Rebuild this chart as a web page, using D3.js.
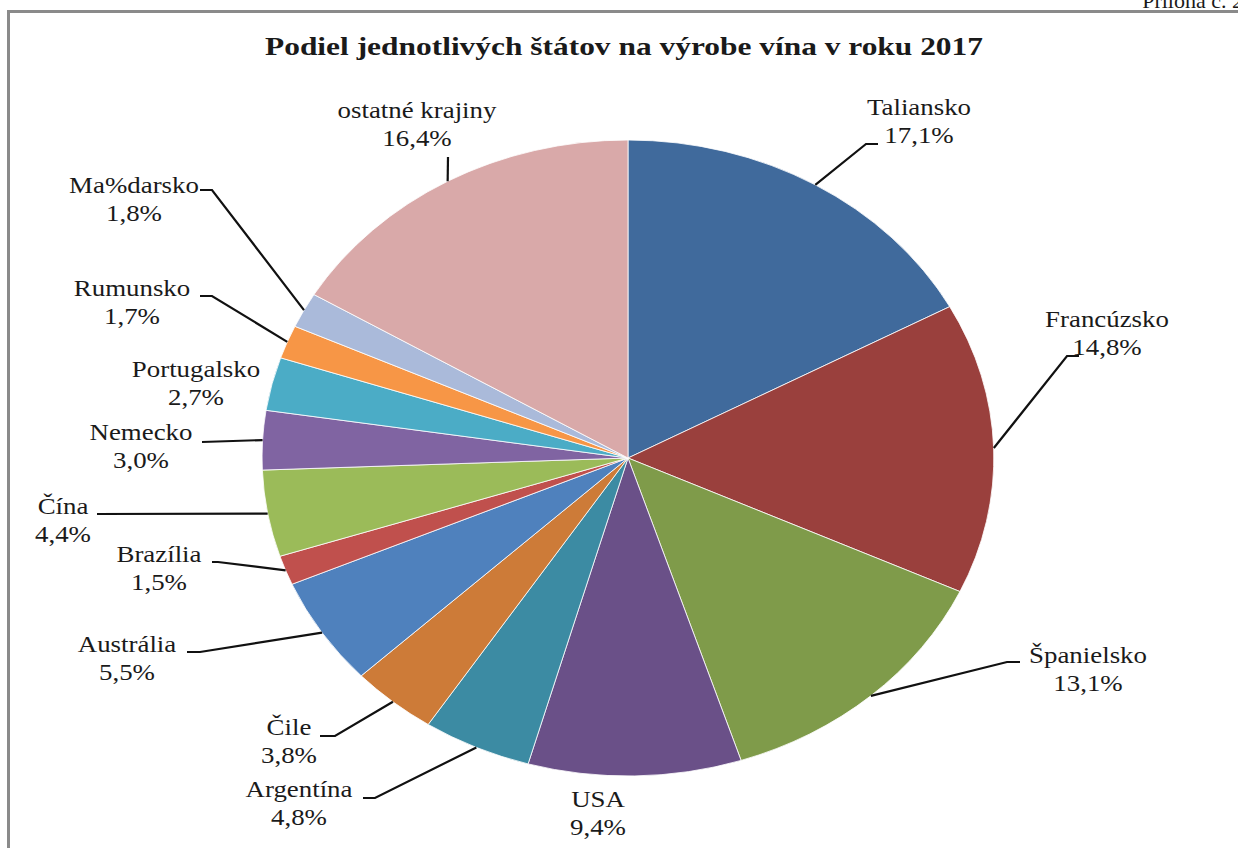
<!DOCTYPE html>
<html>
  <head>
    <meta charset="utf-8">
    <title>Podiel jednotlivých štátov na výrobe vína v roku 2017</title>
    <script src="https://d3js.org/d3.v7.min.js"></script>
    <style type="text/css">
      body {
        margin: 0;
        background: #ffffff;
      }
    </style>
  </head>
  <body>
    <div class="chart"></div>
    <script type="text/javascript">
      // data (percent of world wine production)
      var countries = ['Taliansko', 'Francúzsko', 'Španielsko', 'USA', 'Argentína', 'Čile',
                       'Austrália', 'Brazília', 'Čína', 'Nemecko', 'Portugalsko', 'Rumunsko',
                       'Ma%darsko', 'ostatné krajiny'];
      var shares = [17.1, 14.8, 13.1, 9.4, 4.8, 3.8, 5.5, 1.5, 4.4, 3.0, 2.7, 1.7, 1.8, 16.4];
      var colors = ['#406a9c', '#9a403d', '#7f9b4a', '#6a5088', '#3c8ba3', '#cd7b38',
                    '#4f81bd', '#c0504d', '#9bbb59', '#8064a2', '#4bacc6', '#f79646',
                    '#aabada', '#d9a9a9'];

      // where each label sits (centre x, first baseline y) and the bend of its leader
      var labelLayout = [
        {x: 919, y: 115, lead: [[866, 144], [878, 144]]},
        {x: 1107, y: 327, lead: [[1067, 356], [1079, 356]]},
        {x: 1088, y: 663, lead: [[1007, 662], [1020, 662]]},
        {x: 598, y: 807, lead: null},
        {x: 299, y: 797, lead: [[375, 798], [363, 798]]},
        {x: 289, y: 735, lead: [[335, 736], [320, 736]]},
        {x: 127, y: 652, lead: [[200, 652], [187, 652]]},
        {x: 159, y: 562, lead: [[218, 562], [212, 562]]},
        {x: 63, y: 514, lead: [[97, 514]]},
        {x: 141, y: 440, lead: [[202, 442]]},
        {x: 196, y: 377, lead: null},
        {x: 132, y: 296, lead: [[212, 296], [200, 296]]},
        {x: 134, y: 193, lead: [[212, 190], [200, 190]]},
        {x: 417, y: 118, lead: [[448, 157]]}
      ];

      var font = "'Liberation Serif', 'Times New Roman', serif";
      var width = 1238, height = 848;
      var cx = 628, cy = 458, rx = 366, ry = 318;

      var svg = d3.select('.chart').append('svg')
        .attr('width', width)
        .attr('height', height);

      // outer frame (runs off the page on the right and bottom)
      svg.append('rect')
        .attr('x', 8.5).attr('y', 11.5)
        .attr('width', width).attr('height', height)
        .attr('fill', 'none')
        .attr('stroke', '#8a8a8a')
        .attr('stroke-width', 3);

      svg.append('text')
        .attr('x', 1243).attr('y', 8)
        .attr('text-anchor', 'end')
        .style('font-family', font)
        .style('font-size', '22px')
        .style('fill', '#1a1a1a')
        .text('Príloha č. 2');

      svg.append('text')
        .attr('x', 624).attr('y', 55)
        .attr('text-anchor', 'middle')
        .attr('textLength', 718)
        .attr('lengthAdjust', 'spacingAndGlyphs')
        .style('font-family', font)
        .style('font-size', '26px')
        .style('font-weight', 'bold')
        .style('fill', '#1a1a1a')
        .text('Podiel jednotlivých štátov na výrobe vína v roku 2017');

      var slices = d3.pie().sort(null).value(function(d){return d;})(shares);

      // the pie is drawn on a unit circle and stretched to an ellipse
      var arc = d3.arc().innerRadius(0).outerRadius(1);

      svg.append('g')
        .attr('transform', 'translate(' + cx + ',' + cy + ') scale(' + rx + ',' + ry + ')')
        .selectAll('path')
        .data(slices)
        .enter()
        .append('path')
          .attr('d', arc)
          .attr('fill', function(d, i){return colors[i];})
          .attr('stroke', '#ffffff')
          .attr('stroke-width', 0.8)
          .attr('vector-effect', 'non-scaling-stroke');

      function edgePoint (d) {
        var a = (d.startAngle + d.endAngle) / 2;
        return [cx + rx * Math.sin(a), cy - ry * Math.cos(a)];
      }

      var line = d3.line();

      svg.append('g').selectAll('path')
        .data(slices.filter(function(d, i){return labelLayout[i].lead;}))
        .enter()
        .append('path')
          .attr('d', function(d){
            return line([edgePoint(d)].concat(labelLayout[d.index].lead));
          })
          .attr('fill', 'none')
          .attr('stroke', '#111111')
          .attr('stroke-width', 2.2);

      var labels = svg.append('g').selectAll('text')
        .data(slices)
        .enter()
        .append('text')
          .attr('text-anchor', 'middle')
          .attr('transform', function(d, i){
            var p = labelLayout[i];
            return 'translate(' + p.x + ',' + p.y + ') scale(1.12,1)';
          })
          .style('font-family', font)
          .style('font-size', '24px')
          .style('fill', '#1a1a1a');

      labels.append('tspan')
        .attr('x', 0).attr('y', 0)
        .text(function(d, i){return countries[i];});

      labels.append('tspan')
        .attr('x', 0).attr('y', 28)
        .text(function(d){return d3.format('.1f')(d.data).replace('.', ',') + '%';});
    </script>
  </body>
</html>
